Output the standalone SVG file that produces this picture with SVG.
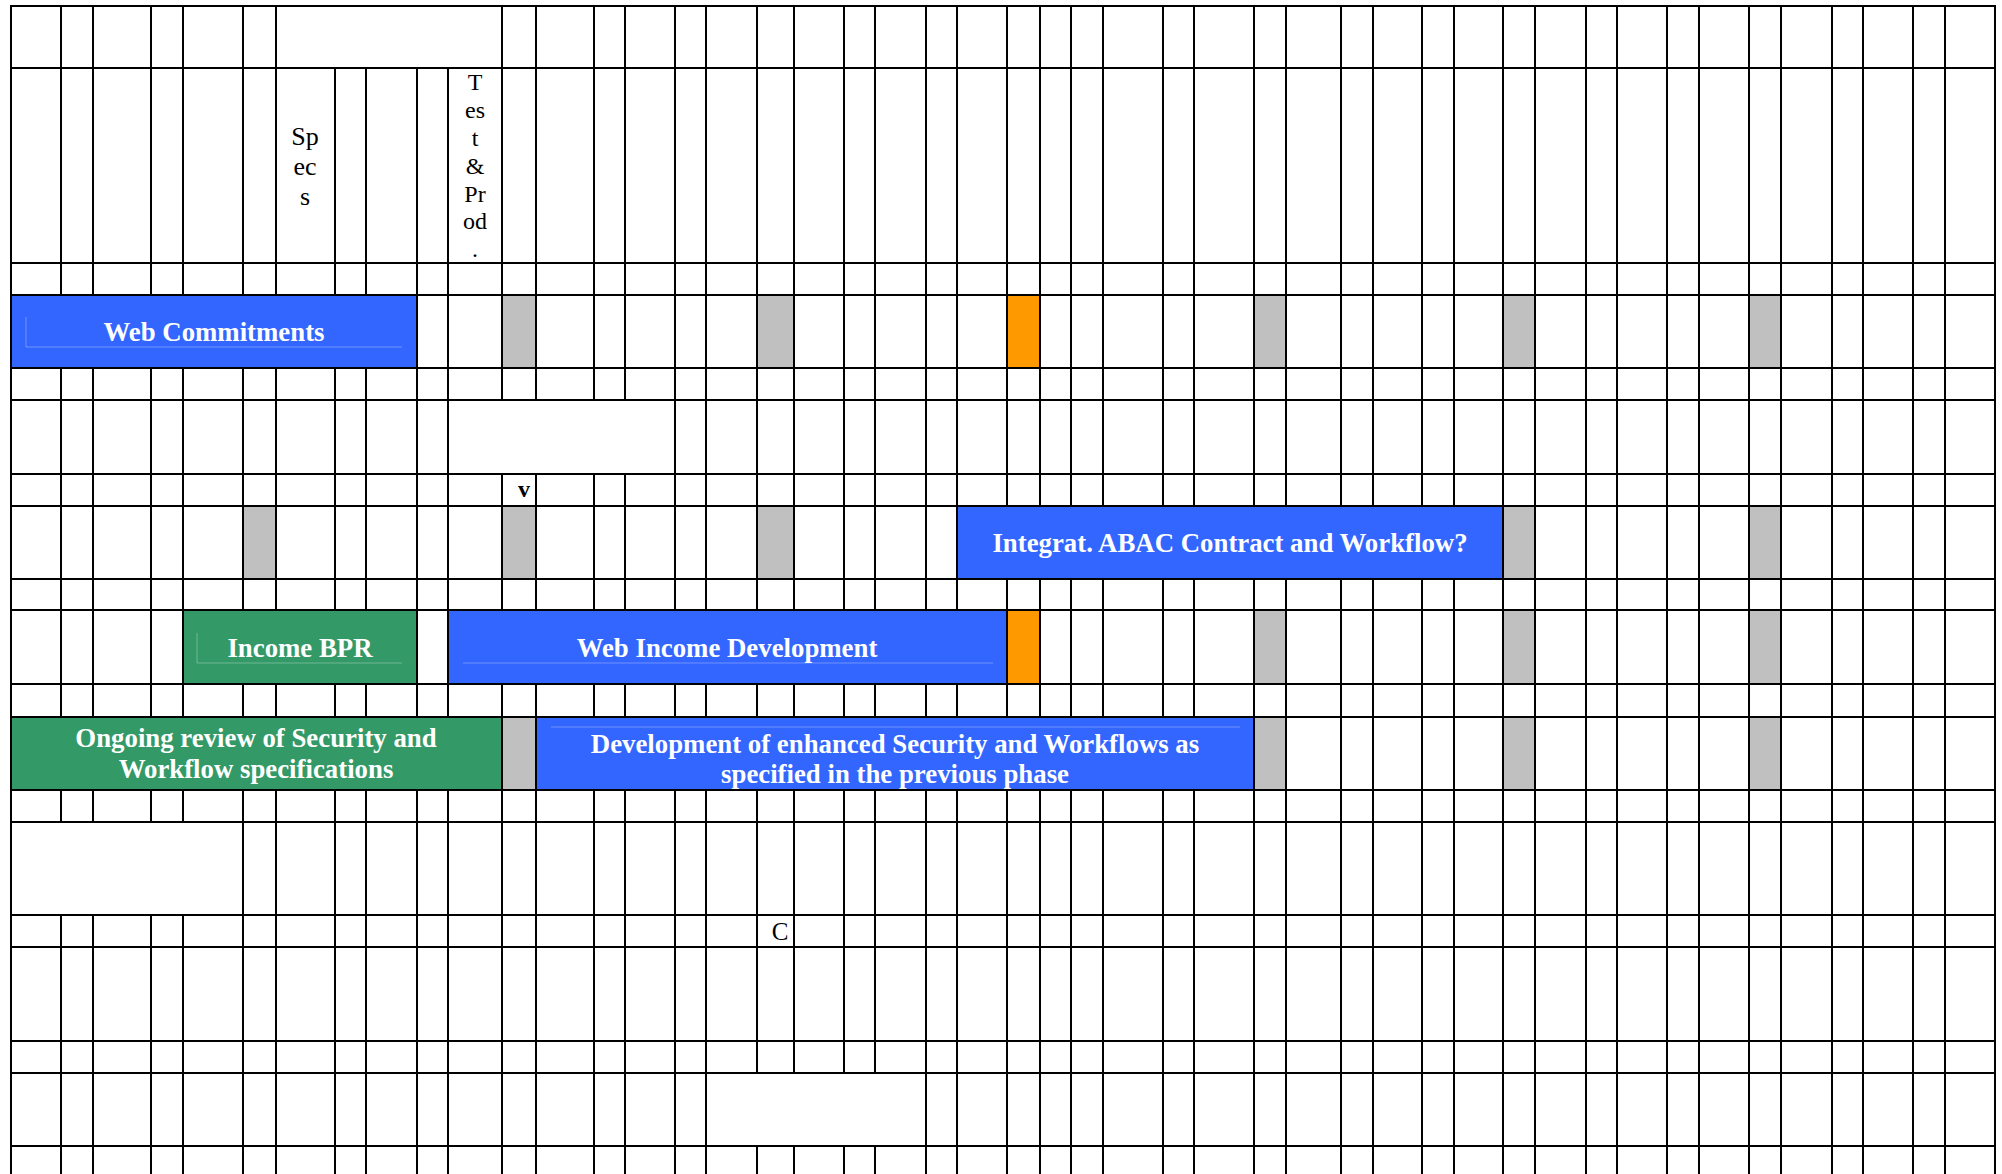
<svg xmlns="http://www.w3.org/2000/svg" width="2002" height="1174" viewBox="0 0 2002 1174">
<style>
.grid{stroke:#000;stroke-width:2;fill:none}
.blue{fill:#3366FF}
.green{fill:#339966}
.grey{fill:#C0C0C0}
.orange{fill:#FF9900}
.white{fill:#FFFFFF}
.lbl{font-family:"Liberation Serif","Times New Roman",serif;font-weight:bold;font-size:26.8px;fill:#FFFFFF;text-anchor:middle}
.cell{font-family:"Liberation Serif","Times New Roman",serif;fill:#000;text-anchor:middle}
.art{stroke:#FFFFFF;stroke-opacity:0.3;stroke-width:1;fill:none}
</style>
<rect x="0" y="0" width="2002" height="1174" fill="#FFFFFF"/>
<g id="grid">
<path class="grid" d="M11 6V1174M61 6V1174M93 6V1174M151 6V1174M183 6V1174M243 6V1174M276 6V1174M335 6V1174M366 6V1174M417 6V1174M448 6V1174M502 6V1174M536 6V1174M594 6V1174M625 6V1174M675 6V1174M706 6V1174M757 6V1174M794 6V1174M844 6V1174M875 6V1174M926 6V1174M957 6V1174M1007 6V1174M1040 6V1174M1071 6V1174M1103 6V1174M1163 6V1174M1194 6V1174M1254 6V1174M1286 6V1174M1341 6V1174M1373 6V1174M1422 6V1174M1454 6V1174M1503 6V1174M1535 6V1174M1586 6V1174M1617 6V1174M1667 6V1174M1699 6V1174M1749 6V1174M1781 6V1174M1832 6V1174M1863 6V1174M1913 6V1174M1945 6V1174M1995 6V1174"/>
<path class="grid" d="M10 6H1996M10 68H1996M10 263H1996M10 295H1996M10 368H1996M10 400H1996M10 474H1996M10 506H1996M10 579H1996M10 610H1996M10 684H1996M10 717H1996M10 790H1996M10 822H1996M10 915H1996M10 947H1996M10 1041H1996M10 1073H1996M10 1146H1996"/>
<!-- merged cells -->
<rect class="white" x="277" y="7" width="224" height="60"/>
<rect class="white" x="449" y="401" width="225" height="72"/>
<rect class="white" x="12" y="823" width="230" height="91"/>
<rect class="white" x="707" y="1074" width="218" height="71"/>
<!-- milestone cells row 3 -->
<rect class="grey" x="503" y="296" width="32" height="71"/>
<rect class="grey" x="758" y="296" width="35" height="71"/>
<rect class="orange" x="1008" y="296" width="31" height="71"/>
<rect class="grey" x="1255" y="296" width="30" height="71"/>
<rect class="grey" x="1504" y="296" width="30" height="71"/>
<rect class="grey" x="1750" y="296" width="30" height="71"/>
<!-- row 7 -->
<rect class="grey" x="244" y="507" width="31" height="71"/>
<rect class="grey" x="503" y="507" width="32" height="71"/>
<rect class="grey" x="758" y="507" width="35" height="71"/>
<rect class="grey" x="1504" y="507" width="30" height="71"/>
<rect class="grey" x="1750" y="507" width="30" height="71"/>
<!-- row 9 -->
<rect class="orange" x="1008" y="611" width="31" height="72"/>
<rect class="grey" x="1255" y="611" width="30" height="72"/>
<rect class="grey" x="1504" y="611" width="30" height="72"/>
<rect class="grey" x="1750" y="611" width="30" height="72"/>
<!-- row 11 -->
<rect class="grey" x="503" y="718" width="32" height="71"/>
<rect class="grey" x="1255" y="718" width="30" height="71"/>
<rect class="grey" x="1504" y="718" width="30" height="71"/>
<rect class="grey" x="1750" y="718" width="30" height="71"/>
</g>
<g id="header-specs">
<text class="cell" font-size="26" x="305"><tspan x="305" y="145">Sp</tspan><tspan x="305" y="175">ec</tspan><tspan x="305" y="205">s</tspan></text>
</g>
<g id="header-testprod">
<text class="cell" font-size="24" x="475"><tspan x="475" y="90">T</tspan><tspan x="475" y="118">es</tspan><tspan x="475" y="146">t</tspan><tspan x="475" y="174">&amp;</tspan><tspan x="475" y="202">Pr</tspan><tspan x="475" y="229">od</tspan><tspan x="475" y="257">.</tspan></text>
</g>
<g id="mark-v"><text class="cell" font-size="24" font-weight="bold" x="524" y="497">v</text></g>
<g id="mark-c"><text class="cell" font-size="25" x="780" y="940">C</text></g>
<g id="bar-web-commitments">
<rect class="blue" x="12" y="296" width="404" height="71"/>
<path class="art" d="M26 317V347H402"/>
<text class="lbl" x="214" y="341">Web Commitments</text>
</g>
<g id="bar-integrat">
<rect class="blue" x="958" y="507" width="544" height="71"/>
<text class="lbl" x="1230" y="552">Integrat. ABAC Contract and Workflow?</text>
</g>
<g id="bar-income-bpr">
<rect class="green" x="184" y="611" width="232" height="72"/>
<path class="art" d="M197 633V663H402"/>
<text class="lbl" x="300" y="657">Income BPR</text>
</g>
<g id="bar-web-income">
<rect class="blue" x="449" y="611" width="557" height="72"/>
<path class="art" d="M463 663H993"/>
<text class="lbl" x="727" y="657">Web Income Development</text>
</g>
<g id="bar-ongoing-review">
<rect class="green" x="12" y="718" width="489" height="71"/>
<text class="lbl" x="256"><tspan x="256" y="747">Ongoing review of Security and</tspan><tspan x="256" y="778">Workflow specifications</tspan></text>
</g>
<g id="bar-development">
<rect class="blue" x="537" y="718" width="716" height="71"/>
<path class="art" d="M551 727H1240"/>
<text class="lbl" x="895"><tspan x="895" y="753">Development of enhanced Security and Workflows as</tspan><tspan x="895" y="783">specified in the previous phase</tspan></text>
</g>
<g id="connectors"/>
</svg>
